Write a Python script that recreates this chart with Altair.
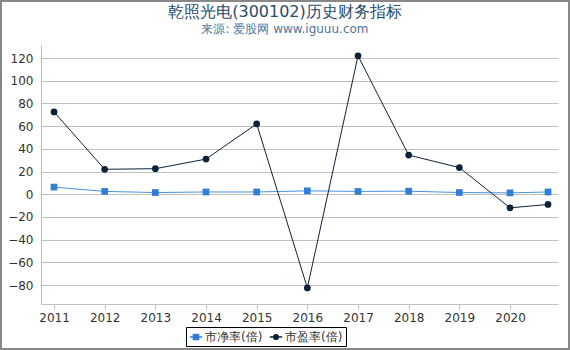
import altair as alt
import pandas as pd

years = [2011, 2012, 2013, 2014, 2015, 2016, 2017, 2018, 2019, 2020, 2020.75]
pb = [6.3, 2.5, 1.5, 2.0, 2.0, 3.0, 2.5, 2.7, 1.5, 1.2, 2.0]
pe = [72.5, 22.0, 22.5, 31.0, 62.0, -82.5, 122.0, 34.5, 23.5, -12.0, -9.0]
series = ["市净率(倍)", "市盈率(倍)"]
colors = ["#2f7ed8", "#0d233a"]
year_ticks = [2011, 2012, 2013, 2014, 2015, 2016, 2017, 2018, 2019, 2020]
y_ticks = [-80, -60, -40, -20, 0, 20, 40, 60, 80, 100, 120]
title_text = "乾照光电(300102)历史财务指标"
subtitle_text = "来源: 爱股网 www.iguuu.com"

rows = []
for i, yr in enumerate(years):
    rows.append({"year": yr, "value": pb[i], "series": series[0]})
    rows.append({"year": yr, "value": pe[i], "series": series[1]})
df = pd.DataFrame(rows)

W, H = 517, 259
PL, PT = 41, 45

x = alt.X("year:Q", scale=alt.Scale(domain=[2010.743, 2020.947], nice=False, zero=False),
          axis=alt.Axis(values=year_ticks, format="d", grid=False, tickSize=5,
                        tickColor="#c0c0c0", domainColor="#c0c0c0", labelPadding=3,
                        labelFontSize=12, labelColor="#333333", title=None,
                        labelFont="DejaVu Sans"))
y = alt.Y("value:Q", scale=alt.Scale(domain=[-96.7, 131.5], nice=False, zero=False),
          axis=alt.Axis(values=y_ticks, grid=True, gridColor="#c0c0c0", ticks=False,
                        domainColor="#c0c0c0", labelPadding=8, labelFontSize=12,
                        labelColor="#333333", title=None, labelFont="DejaVu Sans"))

base = alt.Chart(df)
pb_data = base.transform_filter(alt.datum.series == series[0])
pe_data = base.transform_filter(alt.datum.series == series[1])

pb_line = pb_data.mark_line(strokeWidth=1, color="#4a90e0").encode(x=x, y=y)
pe_line = pe_data.mark_line(strokeWidth=1, color=colors[1]).encode(x=x, y=y)
squares = pb_data.mark_square(size=45, opacity=1, color=colors[0]).encode(x=x, y=y)
circles = pe_data.mark_circle(size=45, opacity=1, color=colors[1]).encode(x=x, y=y)

sq_path = "M-1,0H1M-0.42,-0.42H0.42V0.42H-0.42Z"
ci_path = "M-1,0H1M0.38,0A0.38,0.38 0 1,1 -0.38,0A0.38,0.38 0 1,1 0.38,0Z"

leg = alt.Legend(title=None, orient="none", legendX=145, legendY=282, direction="horizontal")
legend_layer = base.transform_filter("false").mark_point(filled=True, opacity=1).encode(
    x=x, y=y,
    shape=alt.Shape("series:N", scale=alt.Scale(domain=series, range=[sq_path, ci_path]), legend=leg),
    fill=alt.Fill("series:N", scale=alt.Scale(domain=series, range=colors), legend=leg),
    stroke=alt.Stroke("series:N", scale=alt.Scale(domain=series, range=colors), legend=leg),
)

one = pd.DataFrame({"a": [0]})
border = alt.Chart(one).mark_rect(
    fill="transparent", stroke="#888888", strokeWidth=2
).encode(
    x=alt.value(-PL + 1), x2=alt.value(570 - PL - 1),
    y=alt.value(-PT + 1), y2=alt.value(350 - PT - 1),
)

title_mark = alt.Chart(one).mark_text(
    text=title_text, fontSize=16, color="#274b6d", font="DejaVu Sans",
    align="center", baseline="middle"
).encode(x=alt.value(285 - PL), y=alt.value(12 - PT))

subtitle_mark = alt.Chart(one).mark_text(
    text=subtitle_text, fontSize=12, color="#4d759e", font="DejaVu Sans",
    align="center", baseline="middle"
).encode(x=alt.value(285 - PL), y=alt.value(29 - PT))

chart = alt.layer(pb_line, pe_line, squares, circles, legend_layer, border,
                  title_mark, subtitle_mark).properties(
    width=W, height=H,
    background="white",
    autosize=alt.AutoSizeParams(type="none"),
    padding={"left": PL, "top": PT, "right": 570 - PL - W, "bottom": 350 - PT - H},
).configure_view(
    stroke=None
).configure_legend(
    strokeColor="#000000", padding=3, labelFontSize=12, labelColor="#333333",
    labelFont="DejaVu Sans", symbolSize=150, symbolStrokeWidth=1.5, columnPadding=3,
    labelOffset=2, cornerRadius=0,
)

chart.save("out.html", embed_options={"renderer": "svg", "actions": False})
